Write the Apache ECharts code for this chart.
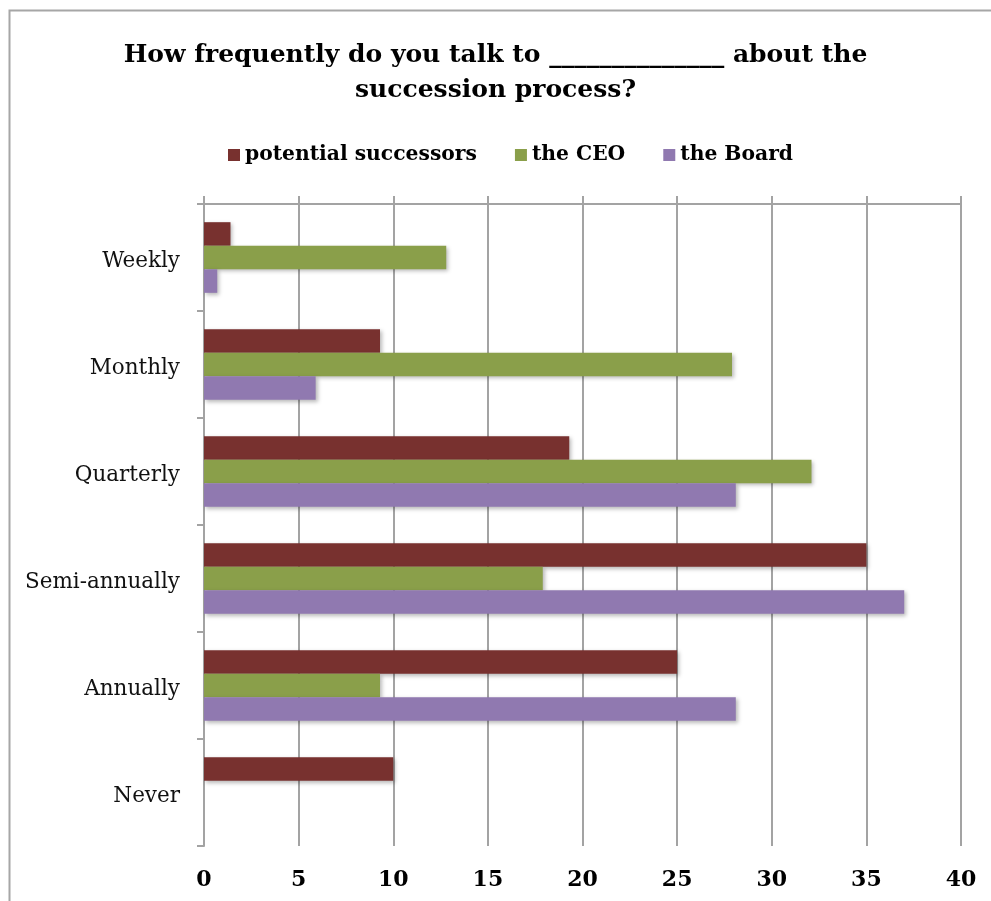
<!DOCTYPE html>
<html>
<head>
<meta charset="utf-8">
<style>
  html, body { margin: 0; padding: 0; background: #ffffff; }
  #chart { width: 991px; height: 901px; }
</style>
<script src="https://cdn.jsdelivr.net/npm/echarts@6/dist/echarts.min.js"></script>
</head>
<body>
<div id="chart"></div>
<script>
// Survey answers (% of respondents) by frequency of succession conversations
const categories = ['Weekly', 'Monthly', 'Quarterly', 'Semi-annually', 'Annually', 'Never'];
const seriesNames = ['potential successors', 'the CEO', 'the Board'];
const potentialSuccessors = [1.4, 9.3, 19.3, 35.0, 25.0, 10.0];
const theCEO = [12.8, 27.9, 32.1, 17.9, 9.3, 0];
const theBoard = [0.7, 5.9, 28.1, 37.0, 28.1, 0];
const xTicks = { min: 0, max: 40, interval: 5 };

const colors = ['#78312F', '#8A9F4A', '#9079B0'];
const serif = '"DejaVu Serif", "Liberation Serif", serif';
const gridColor = '#a3a3a3';

const chart = echarts.init(document.getElementById('chart'), null, { renderer: 'canvas' });

function barSeries(name, data, color) {
  return {
    name: name,
    type: 'bar',
    xAxisIndex: 0,
    data: data,
    barGap: '0%',
    barCategoryGap: '34%',
    itemStyle: {
      color: color,
      shadowColor: 'rgba(0,0,0,0.28)',
      shadowBlur: 4,
      shadowOffsetX: 2,
      shadowOffsetY: 2
    },
    emphasis: { disabled: true }
  };
}

chart.setOption({
  animation: false,
  color: colors,
  title: {
    text: 'How frequently do you talk to ______________ about the\nsuccession process?',
    left: 'center',
    top: 33,
    textStyle: {
      fontFamily: serif,
      fontWeight: 'bold',
      fontSize: 25,
      lineHeight: 35,
      color: '#000000'
    }
  },
  legend: {
    data: seriesNames,
    top: 140,
    left: 223,
    itemWidth: 12,
    itemHeight: 12,
    itemGap: 38,
    icon: 'rect',
    textStyle: {
      fontFamily: serif,
      fontWeight: 'bold',
      fontSize: 20.3,
      color: '#000000'
    }
  },
  graphic: [{
    type: 'rect',
    shape: { x: 9.5, y: 10.5, width: 1200, height: 1200 },
    style: { fill: 'none', stroke: '#a6a6a6', lineWidth: 2 },
    silent: true
  }],
  grid: { left: 204, right: 30, top: 204, bottom: 55, containLabel: false },
  xAxis: [{
    type: 'value',
    position: 'bottom',
    min: xTicks.min, max: xTicks.max, interval: xTicks.interval,
    axisLine: { show: false },
    axisTick: { show: false },
    splitLine: { show: true, lineStyle: { color: gridColor, width: 2 } },
    axisLabel: {
      margin: 23,
      fontFamily: serif,
      fontWeight: 'bold',
      fontSize: 22,
      color: '#000000'
    }
  }, {
    type: 'value',
    position: 'top',
    min: xTicks.min, max: xTicks.max, interval: xTicks.interval,
    axisLine: { show: true, lineStyle: { color: gridColor, width: 2 } },
    axisTick: { show: true, length: 8, lineStyle: { color: gridColor, width: 2 } },
    splitLine: { show: false },
    axisLabel: { show: false }
  }],
  yAxis: {
    type: 'category',
    data: categories,
    inverse: true,
    axisLine: { show: true, lineStyle: { color: gridColor, width: 2 } },
    axisTick: { show: true, length: 7, lineStyle: { color: gridColor, width: 2 } },
    axisLabel: {
      margin: 24,
      formatter: function (v) { return '{c|' + v + '}'; },
      rich: {
        c: {
          fontFamily: serif,
          fontSize: 21.5,
          color: '#111111',
          padding: [8, 0, 0, 0]
        }
      }
    }
  },
  series: [
    barSeries(seriesNames[0], potentialSuccessors, colors[0]),
    barSeries(seriesNames[1], theCEO, colors[1]),
    barSeries(seriesNames[2], theBoard, colors[2])
  ]
});
</script>
</body>
</html>
